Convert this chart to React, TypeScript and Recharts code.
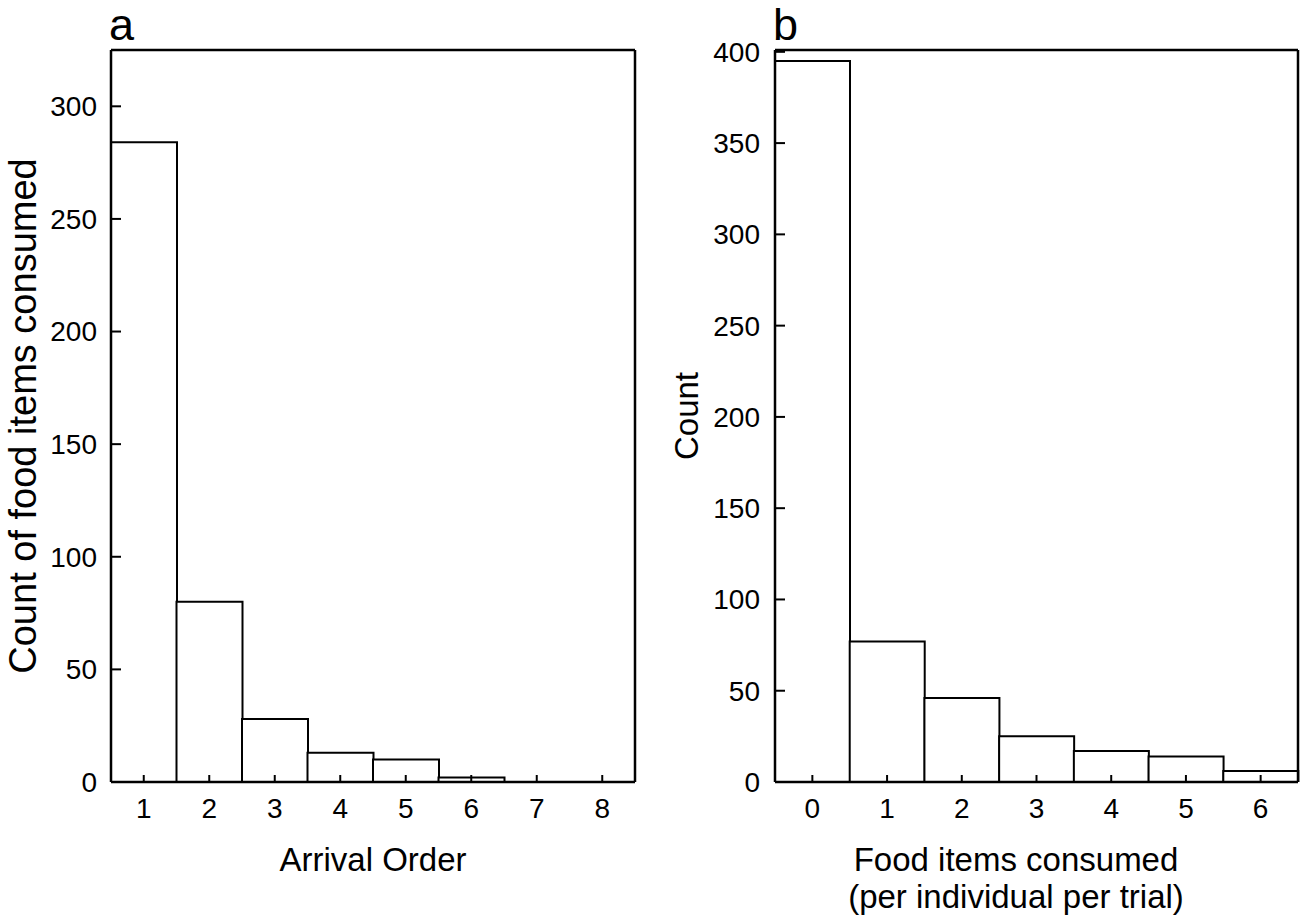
import { BarChart, Bar, XAxis, YAxis } from 'recharts'

// panel a: arrival order histogram
const arrivalOrder = ['1', '2', '3', '4', '5', '6', '7', '8']
const arrivalCounts = [284, 80, 28, 13, 10, 2, 0, 0]
const ticksA = [0, 50, 100, 150, 200, 250, 300]

// panel b: food items consumed per individual per trial
const itemsConsumed = ['0', '1', '2', '3', '4', '5', '6']
const itemCounts = [395, 77, 46, 25, 17, 14, 6]
const ticksB = [0, 50, 100, 150, 200, 250, 300, 350, 400]

const FONT = '"Liberation Sans", Arial, Helvetica, sans-serif'
const AXIS = { stroke: '#000', strokeWidth: 2.5 }
const TICK_LINE = { stroke: '#000', strokeWidth: 2 }

interface PanelProps {
  cats: string[]
  values: number[]
  yMax: number
  yTicks: number[]
  left: number
  width: number
  axisWidth: number
  rightMargin: number
  labelGap: number
}

function Panel({ cats, values, yMax, yTicks, left, width, axisWidth, rightMargin, labelGap }: PanelProps) {
  const data = cats.map((c, i) => ({ x: c, count: values[i] }))
  return (
    <div style={{ position: 'absolute', left, top: 0 }}>
      <BarChart
        width={width}
        height={922}
        data={data}
        barCategoryGap={0}
        barGap={0}
        margin={{ top: 49, right: rightMargin - 1, bottom: 0, left: 0 }}
      >
        <XAxis
          dataKey="x"
          height={140}
          axisLine={AXIS}
          tickLine={TICK_LINE}
          tickSize={-7}
          tickMargin={23}
          tick={{ fill: '#000', fontSize: 28, fontFamily: FONT }}
          interval={0}
        />
        {/* frame: top and right edges */}
        <XAxis xAxisId="top" dataKey="x" orientation="top" height={1} axisLine={AXIS} tick={false} tickLine={false} />
        <YAxis
          type="number"
          domain={[0, yMax]}
          ticks={yTicks}
          allowDataOverflow
          width={axisWidth}
          axisLine={AXIS}
          tickLine={TICK_LINE}
          tickSize={-10}
          tickMargin={labelGap}
          tick={{ fill: '#000', fontSize: 28, fontFamily: FONT }}
          interval={0}
        />
        <YAxis yAxisId="right" orientation="right" width={1} axisLine={AXIS} tick={false} tickLine={false} />
        <Bar dataKey="count" fill="#fff" stroke="#000" strokeWidth={2} isAnimationActive={false} />
      </BarChart>
    </div>
  )
}

export default function App() {
  return (
    <div style={{ position: 'absolute', left: 0, top: 0, width: 1303, height: 922, background: '#fff', fontFamily: FONT }}>
      <Panel
        cats={arrivalOrder}
        values={arrivalCounts}
        yMax={325}
        yTicks={ticksA}
        left={0}
        width={660}
        axisWidth={111}
        rightMargin={25}
        labelGap={24}
      />
      <Panel
        cats={itemsConsumed}
        values={itemCounts}
        yMax={401}
        yTicks={ticksB}
        left={660}
        width={643}
        axisWidth={115}
        rightMargin={5}
        labelGap={25}
      />
      <svg width={1303} height={922} style={{ position: 'absolute', left: 0, top: 0, pointerEvents: 'none' }}>
        <g fontFamily={FONT} fill="#000">
          <text x={109} y={40} fontSize={45}>a</text>
          <text x={773} y={40} fontSize={45}>b</text>
          <text transform="translate(36,416) rotate(-90)" textAnchor="middle" fontSize={38}>
            Count of food items consumed
          </text>
          <text transform="translate(698,416) rotate(-90)" textAnchor="middle" fontSize={33}>
            Count
          </text>
          <text x={373} y={871} textAnchor="middle" fontSize={33}>Arrival Order</text>
          <text x={1016} y={871} textAnchor="middle" fontSize={33}>Food items consumed</text>
          <text x={1016} y={908} textAnchor="middle" fontSize={33}>(per individual per trial)</text>
        </g>
      </svg>
    </div>
  )
}
